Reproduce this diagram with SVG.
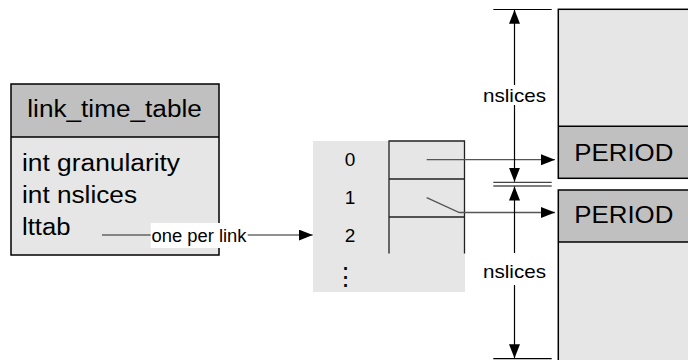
<svg xmlns="http://www.w3.org/2000/svg" width="688" height="360" viewBox="0 0 688 360">
  <style>
    text { font-family: "Liberation Sans", Arial, sans-serif; fill: #000; }
    .big { font-size: 23px; }
    .mid { font-size: 24px; }
    .idx { font-size: 19px; text-anchor: middle; }
    .dim { font-size: 19px; text-anchor: middle; }
    .lbl { font-size: 18px; }
    .hdr { fill: #c0c0c0; }
    .body { fill: #e6e6e6; }
    .frame { fill: none; stroke: #000; stroke-width: 1.5; }
    .cell { fill: none; stroke: #222; stroke-width: 1.3; }
    .conn { fill: none; stroke: #222; stroke-width: 1.2; }
    .ptr { fill: none; stroke: #555; stroke-width: 1.3; }
    .ext { stroke: #000; stroke-width: 1.2; }
  </style>
  <defs>
    <marker id="arrow" markerUnits="userSpaceOnUse" markerWidth="15" markerHeight="12" refX="14" refY="5.5" orient="auto">
      <path d="M0,0 L14,5.5 L0,11 z" fill="#000"/>
    </marker>
  </defs>

  <!-- link_time_table structure -->
  <g id="link_time_table">
    <rect x="11" y="84" width="208" height="53" class="hdr"/>
    <rect x="11" y="137" width="208" height="118" class="body"/>
    <rect x="11" y="84" width="208" height="171" class="frame" stroke-width="2"/>
    <line x1="11" y1="137" x2="219" y2="137" stroke="#000" stroke-width="1.5"/>
    <text x="27.3" y="117.3" class="big" textLength="174.5" lengthAdjust="spacingAndGlyphs">link_time_table</text>
    <text x="22" y="170.7" class="big" textLength="158" lengthAdjust="spacingAndGlyphs">int granularity</text>
    <text x="22" y="203.3" class="big" textLength="115" lengthAdjust="spacingAndGlyphs">int nslices</text>
    <text x="22" y="235.3" class="big" textLength="48.5" lengthAdjust="spacingAndGlyphs">lttab</text>
  </g>

  <!-- lttab array, one entry per link -->
  <g id="lttab_array">
    <rect x="313" y="141" width="152" height="151" class="body"/>
    <path d="M389,253.5 V141 H464.5 V253.5 M389,179 H464.5 M389,217 H464.5" class="cell"/>
    <text x="350" y="165.7" class="idx">0</text>
    <text x="350" y="204" class="idx">1</text>
    <text x="350" y="241.8" class="idx">2</text>
    <text x="345" y="285" font-size="25" text-anchor="middle" font-family="'DejaVu Sans', sans-serif">⋮</text>
  </g>

  <!-- PERIOD blocks of consecutive links -->
  <g id="period_block_0">
    <rect x="558.3" y="9.3" width="140" height="117" class="body"/>
    <rect x="558.3" y="126.3" width="140" height="52" class="hdr"/>
    <rect x="558.3" y="9.3" width="140" height="169" class="frame"/>
    <line x1="558.3" y1="126.3" x2="698" y2="126.3" stroke="#000" stroke-width="1.5"/>
    <text x="574.3" y="160.7" class="mid" textLength="99" lengthAdjust="spacingAndGlyphs">PERIOD</text>
  </g>
  <g id="period_block_1">
    <rect x="558.3" y="190" width="140" height="52" class="hdr"/>
    <rect x="558.3" y="242" width="140" height="130" class="body"/>
    <rect x="558.3" y="190" width="140" height="182" class="frame"/>
    <line x1="558.3" y1="242" x2="698" y2="242" stroke="#000" stroke-width="1.5"/>
    <text x="574.3" y="223.3" class="mid" textLength="99" lengthAdjust="spacingAndGlyphs">PERIOD</text>
  </g>

  <!-- connectors -->
  <g id="connectors">
    <!-- lttab to array -->
    <line x1="102" y1="235" x2="312.7" y2="235" class="conn" marker-end="url(#arrow)"/>
    <rect x="150.7" y="223" width="97" height="25" fill="#fff"/>
    <text x="151.5" y="241.5" class="lbl" textLength="95" lengthAdjust="spacingAndGlyphs">one per link</text>
    <!-- array entries to periods -->
    <line x1="426.7" y1="159.7" x2="555" y2="159.7" class="ptr" marker-end="url(#arrow)"/>
    <polyline points="426.7,197.7 459.3,212.5 555,212.5" class="ptr" marker-end="url(#arrow)"/>

    <!-- nslices dimension, first block -->
    <line x1="493.3" y1="9.5" x2="551.7" y2="9.5" class="ext"/>
    <line x1="514.5" y1="85" x2="514.5" y2="9.8" class="ext" marker-end="url(#arrow)"/>
    <line x1="514.5" y1="105" x2="514.5" y2="181.8" class="ext" marker-end="url(#arrow)"/>
    <line x1="493.3" y1="182.4" x2="551.7" y2="182.4" stroke="#444" stroke-width="1.1"/>
    <text x="514.5" y="101.7" class="dim" textLength="63" lengthAdjust="spacingAndGlyphs">nslices</text>

    <!-- nslices dimension, second block -->
    <line x1="493.3" y1="186" x2="551.7" y2="186" class="ext"/>
    <line x1="514.5" y1="253" x2="514.5" y2="186.5" class="ext" marker-end="url(#arrow)"/>
    <line x1="514.5" y1="285" x2="514.5" y2="358.3" class="ext" marker-end="url(#arrow)"/>
    <line x1="493.3" y1="358.6" x2="551.7" y2="358.6" class="ext"/>
    <text x="514.5" y="278.3" class="dim" textLength="63" lengthAdjust="spacingAndGlyphs">nslices</text>
  </g>
</svg>
